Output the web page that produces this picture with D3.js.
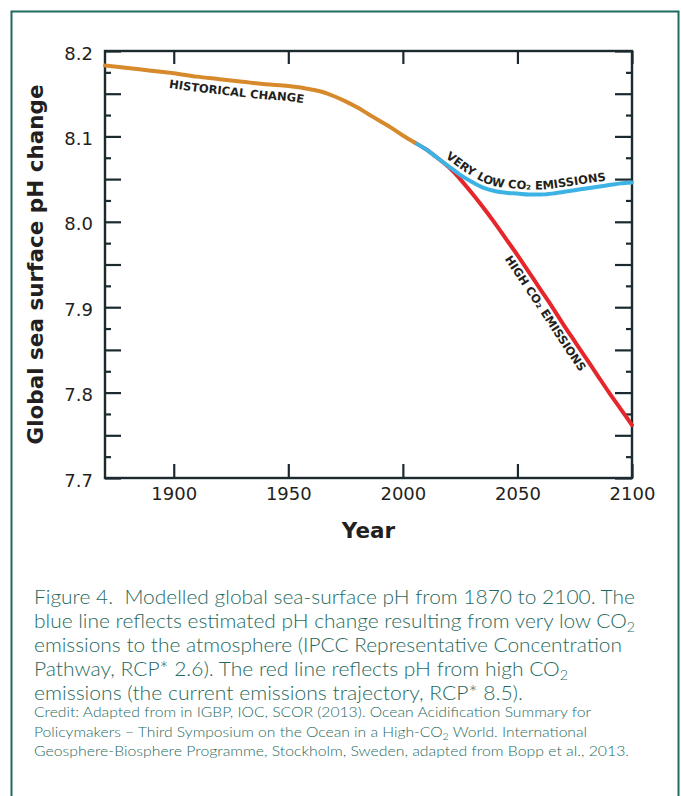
<!DOCTYPE html>
<html><head><meta charset="utf-8">
<script src="https://cdn.jsdelivr.net/npm/d3@7"></script>
<style>html,body{margin:0;padding:0;background:#fff;}svg{display:block;}</style>
</head><body>
<svg id="chart" width="681" height="796"></svg>
<script>
// ---- data ----
const histYears = [1870,1880,1890,1900,1910,1920,1930,1940,1950,1960,1965,1970,1975,1980,1985,1990,1995,2000,2005];
const histPH    = [8.183,8.180,8.177,8.174,8.170,8.167,8.164,8.161,8.159,8.155,8.152,8.147,8.141,8.134,8.126,8.118,8.110,8.101,8.093];
const futYears  = [2005,2010,2015,2020,2025,2030,2035,2040,2045,2050,2055,2060,2065,2070,2075,2080,2085,2090,2095,2100];
const lowPH     = [8.093,8.085,8.075,8.065,8.055,8.047,8.040,8.036,8.034,8.033,8.032,8.032,8.033,8.035,8.037,8.039,8.041,8.043,8.045,8.046];
const highPH    = [8.093,8.085,8.075,8.064,8.050,8.034,8.017,7.999,7.980,7.961,7.941,7.921,7.901,7.880,7.860,7.840,7.820,7.800,7.781,7.762];
const xTickYears   = [1900,1950,2000,2050,2100];
const yLabelTicks  = [7.7,7.8,7.9,8.0,8.1,8.2];
const yMidTicks    = [7.75,7.85,7.95,8.05,8.15];
const yMinorTicks  = [7.725,7.775,7.825,7.875,7.925,7.975,8.025,8.075,8.125,8.175];
const yTitle = "Global sea surface pH change";
const xTitle = "Year";
const histLabel = "HISTORICAL CHANGE";
const lowLabel  = "VERY LOW CO\u2082 EMISSIONS";
const highLabel = "HIGH CO\u2082 EMISSIONS";
const captionLines = [
  ["Figure 4.\u00a0 Modelled global sea-surface pH from 1870 to 2100. The"],
  ["blue line reflects estimated pH change resulting from very low CO", "2"],
  ["emissions to the atmosphere (IPCC Representative Concentration"],
  ["Pathway, RCP* 2.6). The red line reflects pH from high CO", "2"],
  ["emissions (the current emissions trajectory, RCP* 8.5)."]
];
const creditLines = [
  ["Credit: Adapted from in IGBP, IOC, SCOR (2013). Ocean Acidification Summary for"],
  ["Policymakers \u2013 Third Symposium on the Ocean in a High-CO", "2", " World. International"],
  ["Geosphere-Biosphere Programme, Stockholm, Sweden, adapted from Bopp et al., 2013."]
];
const captionWidths = [601,601,588,534,489];
const creditWidths  = [557,553,595];

// ---- drawing ----
const svg = d3.select("#chart");
const teal = "#1f6a60", axisCol = "#1c2a2f", textCol = "#231f20";
svg.append("rect").attr("x",11.5).attr("y",11.5).attr("width",667).attr("height",820)
  .attr("fill","none").attr("stroke",teal).attr("stroke-width",2);

const x = d3.scaleLinear().domain([1870,2100]).range([105,632]);
const y = d3.scaleLinear().domain([7.7,8.2]).range([478,51]);

const tickFont = "DejaVu Sans";
function styleAxis(g){
  g.select(".domain").remove();
  g.selectAll(".tick line").attr("stroke",axisCol).attr("stroke-width",2.2);
  g.selectAll(".tick text").attr("fill",textCol).attr("font-family",tickFont).attr("font-size",18);
}
// left
svg.append("g").attr("transform","translate(105,0)")
  .call(d3.axisLeft(y).tickValues(yLabelTicks).tickSize(-16).tickPadding(12).tickFormat(d3.format(".1f"))).call(styleAxis)
  .selectAll(".tick text").attr("dy","0.45em");
svg.append("g").attr("transform","translate(105,0)")
  .call(d3.axisLeft(y).tickValues(yMidTicks).tickSize(-16).tickFormat("")).call(styleAxis);
svg.append("g").attr("transform","translate(105,0)")
  .call(d3.axisLeft(y).tickValues(yMinorTicks).tickSize(-6).tickFormat("")).call(styleAxis);
// right
svg.append("g").attr("transform","translate(632,0)")
  .call(d3.axisRight(y).tickValues(yLabelTicks.concat(yMidTicks)).tickSize(-17).tickFormat("")).call(styleAxis);
svg.append("g").attr("transform","translate(632,0)")
  .call(d3.axisRight(y).tickValues(yMinorTicks).tickSize(-6).tickFormat("")).call(styleAxis);
// bottom
svg.append("g").attr("transform","translate(0,478)")
  .call(d3.axisBottom(x).tickValues(xTickYears).tickSize(-14).tickPadding(9).tickFormat(d3.format("d"))).call(styleAxis);
// top
svg.append("g").attr("transform","translate(0,51)")
  .call(d3.axisTop(x).tickValues(xTickYears).tickSize(-13).tickFormat("")).call(styleAxis);
// frame
svg.append("rect").attr("x",x(1870)).attr("y",y(8.2)).attr("width",x(2100)-x(1870)).attr("height",y(7.7)-y(8.2))
  .attr("fill","none").attr("stroke",axisCol).attr("stroke-width",2.4);

// titles
svg.append("text").attr("transform",`translate(35,${(y(7.7)+y(8.2))/2}) rotate(-90)`)
  .attr("text-anchor","middle").attr("dominant-baseline","central")
  .attr("font-family","DejaVu Sans").attr("font-weight","bold").attr("font-size",21.5).attr("fill",textCol)
  .text(yTitle);
svg.append("text").attr("x",(x(1870)+x(2100))/2).attr("y",538).attr("text-anchor","middle")
  .attr("font-family","DejaVu Sans").attr("font-weight","bold").attr("font-size",21.5).attr("fill",textCol)
  .text(xTitle);

// lines
const line = d3.line().x(d=>x(d[0])).y(d=>y(d[1])).curve(d3.curveMonotoneX);
const histData = histYears.map((t,i)=>[t,histPH[i]]);
const lowData  = futYears.map((t,i)=>[t,lowPH[i]]);
const highData = futYears.map((t,i)=>[t,highPH[i]]);
const pHigh = svg.append("path").attr("d",line(highData)).attr("fill","none").attr("stroke","#e5262b").attr("stroke-width",4).attr("stroke-linecap","round");
const pLow  = svg.append("path").attr("d",line(lowData)).attr("fill","none").attr("stroke","#3db3e5").attr("stroke-width",4).attr("stroke-linecap","round");
const pHist = svg.append("path").attr("d",line(histData)).attr("fill","none").attr("stroke","#d68a2c").attr("stroke-width",4).attr("stroke-linecap","round");

// offset label paths following the lines
function offsetPath(node, dist, xMin, xMax){
  const L = node.getTotalLength(), pts = [];
  for (let s=0; s<=L; s+=2){
    const p = node.getPointAtLength(s);
    if (p.x < xMin || p.x > xMax) continue;
    const a = node.getPointAtLength(Math.max(0,s-3)), b = node.getPointAtLength(Math.min(L,s+3));
    const dx=b.x-a.x, dy=b.y-a.y, n=Math.hypot(dx,dy)||1;
    pts.push([p.x + dist*dy/n, p.y - dist*dx/n]);
  }
  return d3.line().curve(d3.curveBasis)(pts);
}
const defs = svg.append("defs");
defs.append("path").attr("id","histLab").attr("d",offsetPath(pHist.node(),-15,170,400));
defs.append("path").attr("id","lowLab").attr("d",offsetPath(pLow.node(),5,441,640));
defs.append("path").attr("id","highLab").attr("d",offsetPath(pHigh.node(),-13,514,640));

function curveLabel(id, s){
  svg.append("text").attr("font-family","DejaVu Sans").attr("font-weight","bold")
    .attr("font-size",11.5).attr("fill",textCol)
    .append("textPath").attr("href","#"+id).text(s);
}
curveLabel("histLab",histLabel);
curveLabel("lowLab",lowLabel);
curveLabel("highLab",highLabel);

// caption
function captionBlock(lines, widths, y0, step, size){
  lines.forEach((parts,i)=>{
    const t = svg.append("text").attr("x",34).attr("y",y0+i*step)
      .attr("font-family","Lato").attr("font-weight",300).attr("font-size",size).attr("fill",teal);
    parts.forEach((s,j)=>{
      if (j%2===1){ t.append("tspan").attr("font-size",size*0.68).attr("dy",size*0.22).text(s); }
      else { t.append("tspan").attr("dy", j>0 ? -size*0.22 : 0).text(s); }
    });
    t.attr("textLength",widths[i]).attr("lengthAdjust","spacingAndGlyphs");
  });
}
captionBlock(captionLines, captionWidths, 604, 24, 19.5);
captionBlock(creditLines, creditWidths, 717, 19.5, 14);
</script>
</body></html>
